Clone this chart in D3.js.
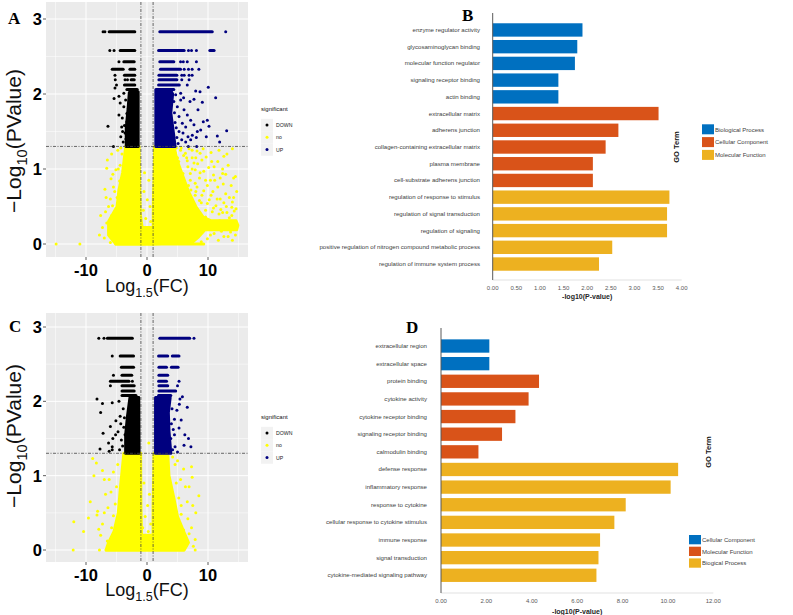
<!DOCTYPE html>
<html>
<head>
<meta charset="utf-8">
<script src="https://cdn.jsdelivr.net/npm/d3@7"></script>
<style>
  html, body { margin: 0; padding: 0; background: #fff; }
  svg { display: block; font-family: "Liberation Sans", Arial, sans-serif; }
</style>
</head>
<body>
<svg id="fig" width="793" height="615"></svg>
<script>
// ---------------------------------------------------------------
// Volcano data.
// runs = a row of overlapping dots at one p-value: [y, x1, x2]
// pts  = single dots [x, y]
// blob = outline of a region packed solid with dots [[x, y], ...]
// ---------------------------------------------------------------
const volXTicks = [-10, 0, 10];
const volXMinor = [-15, -5, 5, 15];
const volYTicks = [0, 1, 2, 3];
const volYMinor = [0.5, 1.5, 2.5];
const volThreshX = [-1, 1];
const volThreshY = 1.301;
const sigLevels = ['DOWN', 'no', 'UP'];

// Panel A
const aDownRuns = [[2.83, -6.2, -2.0], [2.58, -4.4, -2.0], [2.43, -3.8, -2.1], [2.33, -5.7, -3.9], [2.33, -2.8, -2.0],
  [2.25, -3.7, -2.0], [2.19, -2.6, -2.1], [2.12, -3.7, -2.0], [2.06, -3.3, -1.6]];
const aDownPts = [[-7.2, 2.83], [-6.9, 2.83], [-6.1, 2.58], [-5.4, 2.58], [-4.6, 2.43], [-5.25, 2.25], [-5.2, 2.19],
  [-3.6, 2.19], [-3.2, 2.19], [-5.0, 2.12], [-5.25, 2.08], [-5.4, 1.94], [-4.6, 1.97], [-6.4, 1.57], [-4.15, 1.56],
  [-4.6, 1.72], [-5.5, 1.30], [-3.8, 1.83], [-4.05, 1.68], [-3.6, 1.48], [-4.3, 1.43], [-3.9, 1.36], [-3.5, 1.92],
  [-3.3, 1.74], [-3.8, 2.01], [-3.3, 1.63], [-4.0, 1.50], [-3.7, 1.58], [-3.45, 1.40], [-4.4, 1.88]];
const aDownBlob = [[-3.1, 1.3], [-1.45, 1.3], [-1.45, 2.03], [-2.2, 2.06], [-2.9, 2.02], [-3.1, 1.8], [-3.4, 1.55], [-3.4, 1.3]];

const aUpRuns = [[2.83, 2.1, 10.7], [2.58, 1.9, 6.1], [2.58, 10.3, 11.0], [2.43, 2.1, 4.4], [2.33, 2.2, 5.5],
  [2.25, 1.95, 4.9], [2.19, 1.95, 4.9], [2.12, 1.9, 5.3], [2.06, 1.7, 4.4]];
const aUpPts = [[12.9, 2.83], [6.8, 2.58], [7.3, 2.58], [8.1, 2.58], [5.5, 2.43], [5.95, 2.43], [6.6, 2.43], [8.1, 2.43],
  [6.1, 2.33], [6.8, 2.33], [7.4, 2.33], [8.5, 2.33], [5.7, 2.25], [6.1, 2.25], [6.9, 2.25], [7.4, 2.25], [5.7, 2.19],
  [6.9, 2.19], [6.6, 2.12], [7.98, 2.04], [8.69, 2.03], [10.05, 2.09], [11.26, 1.95], [9.07, 1.89], [7.7, 1.93],
  [7.05, 1.90], [8.36, 1.79], [6.61, 1.72], [13.06, 1.51], [11.53, 1.44], [11.91, 1.36], [9.89, 1.65], [9.23, 1.63],
  [10.16, 1.57], [8.8, 1.52], [8.25, 1.50], [7.43, 1.45], [6.72, 1.43], [8.08, 1.42], [9.72, 1.43], [5.25, 1.50],
  [5.69, 1.39], [6.34, 1.36], [7.16, 1.39], [8.15, 1.30], [6.77, 1.30], [5.52, 1.92], [6.07, 1.79], [5.25, 1.70],
  [5.79, 1.61], [6.34, 1.56], [7.16, 1.65], [7.7, 1.59], [4.97, 1.83], [4.7, 1.99], [5.52, 2.01], [4.6, 1.62],
  [4.9, 1.42], [5.1, 1.34], [4.5, 1.75], [4.8, 1.55], [4.4, 1.90], [5.9, 1.48], [6.0, 1.95]];
const aUpBlob = [[1.45, 1.3], [4.6, 1.3], [4.3, 1.5], [3.9, 1.75], [4.2, 2.0], [3.8, 2.06], [1.45, 2.06]];

const aNoRuns = [[0, -5.1, 9.3]];
const aNoPts = [[-14.9, 0], [-11.0, 0],
  [-6.5, 1.12], [-6.6, 1.01], [-5.1, 0.99], [-6.9, 0.73], [-5.5, 0.76], [-6.8, 0.43], [-7.3, 0.22], [-5.9, 0.3],
  [-5.65, 0.51], [-4.5, 0.84], [-4.9, 0.62], [-6.2, 0.18], [-5.3, 0.11], [-5.8, 0.38], [-4.1, 1.2], [-4.4, 1.05],
  [-5.3, 0.7], [-6.0, 0.6], [-4.3, 1.28], [-5.6, 0.93], [-6.6, 0.28], [-7.0, 0.08],
  [-4.8, 1.25], [-5.8, 1.2], [-4.7, 1.0], [-5.9, 0.87], [-6.3, 0.5], [-7.6, 0.38], [-6.7, 0.62], [-5.0, 0.35],
  [-7.8, 0.12], [-6.0, 0.02],
  [-0.5, 0.70], [0.05, 0.59], [-0.6, 0.45], [0.5, 0.5], [-0.2, 0.34], [0.3, 0.85], [-0.4, 0.95], [0.6, 0.3],
  [7.4, 1.25], [8.7, 1.21], [9.7, 1.16], [14.0, 1.27], [12.6, 1.17], [12.4, 1.0], [12.4, 0.94], [14.5, 0.9],
  [11.0, 1.03], [9.3, 0.97], [8.3, 1.07], [6.6, 1.11], [6.0, 1.18], [10.4, 0.85], [11.6, 0.76], [12.9, 0.67],
  [14.0, 0.56], [14.3, 0.44], [13.5, 0.35], [12.4, 0.42], [11.3, 0.51], [10.2, 0.59], [9.3, 0.71], [7.9, 0.81],
  [8.6, 0.88], [7.1, 0.94], [11.9, 0.31], [12.6, 0.10], [11.0, 0.14], [9.9, 0.07], [13.7, 0.16], [10.2, 0.25],
  [14.2, 0.88], [13.9, 0.49], [13.3, 0.10], [5.5, 1.25], [6.3, 1.21], [7.4, 1.15], [5.2, 1.10], [6.7, 1.03],
  [7.9, 0.99], [5.9, 0.94], [7.1, 0.85], [8.2, 0.76], [9.0, 0.65], [9.9, 0.54], [10.7, 0.43], [7.9, 0.65],
  [4.6, 1.22], [5.0, 1.15], [4.8, 1.28], [6.8, 0.78], [8.6, 0.58], [9.6, 0.45], [11.8, 0.40], [12.9, 0.22],
  [11.5, 0.22], [13.0, 0.5], [14.7, 0.7], [12.0, 0.6], [10.8, 0.7], [9.6, 0.85], [8.0, 1.15], [10.6, 1.1], [12.0, 0.88],
  [5.6, 1.28], [6.9, 1.27], [8.2, 1.24], [9.2, 1.27], [10.5, 1.22], [11.8, 1.25], [13.1, 1.2], [6.5, 1.15],
  [7.7, 1.08], [9.0, 1.12], [10.1, 1.02], [11.6, 1.1], [13.3, 1.05], [7.4, 1.0], [8.7, 0.95], [10.9, 0.92],
  [12.9, 0.93], [13.8, 0.78], [7.2, 0.72], [8.0, 0.7], [9.9, 0.78], [11.1, 0.85], [12.5, 0.8], [13.5, 0.62],
  [8.9, 0.55], [10.5, 0.65], [11.5, 0.6], [12.6, 0.55], [14.2, 0.62], [9.6, 0.36], [10.9, 0.48], [12.1, 0.46],
  [13.1, 0.42], [14.6, 0.47], [13.9, 0.38], [8.9, 0.03], [10.4, 0.12], [11.7, 0.05], [12.2, 0.17], [14.5, 0.12],
  [14.0, 0.05]];
const aNoBlobs = [
  [[-3.5, 1.3], [-1.3, 1.3], [-1.2, 0.8], [-1.1, 0.4], [-0.8, 0.22], [0.8, 0.22], [1.0, 0.05], [1.0, 0], [-5.1, 0],
   [-6.3, 0.12], [-6.3, 0.3], [-4.9, 0.5], [-4.6, 0.72], [-4.0, 0.95], [-3.7, 1.15]],
  [[1.25, 1.3], [4.4, 1.3], [5.0, 1.1], [5.9, 0.9], [6.8, 0.7], [8.0, 0.5], [9.2, 0.36], [10.5, 0.31], [14.6, 0.31],
   [14.9, 0.25], [14.7, 0.19], [9.5, 0.19], [8.5, 0.1], [7.5, 0.03], [1.0, 0], [1.05, 0.6], [1.2, 1.0]]
];

// Panel C
const cDownRuns = [[2.85, -6.5, -2.4], [2.61, -4.4, -2.2], [2.46, -4.2, -2.2], [2.35, -4.1, -2.5], [2.27, -6.0, -2.95],
  [2.21, -4.1, -2.1], [2.14, -4.1, -2.1], [2.08, -4.1, -1.8]];
const cDownPts = [[-7.9, 2.85], [-7.05, 2.85], [-5.7, 2.61], [-5.5, 2.35], [-2.4, 2.27], [-6.0, 2.21],
  [-8.2, 2.03], [-7.3, 1.97], [-7.6, 1.85], [-5.7, 1.98], [-5.1, 1.74], [-7.2, 1.57], [-6.0, 1.66], [-5.6, 1.5],
  [-6.3, 1.44], [-5.7, 1.39], [-7.7, 1.36], [-4.75, 1.59], [-5.15, 1.55], [-4.3, 1.70], [-6.2, 1.33], [-5.7, 1.35],
  [-4.4, 1.80], [-3.9, 1.9], [-4.2, 1.48], [-3.8, 1.65], [-4.5, 1.35], [-4.0, 1.40], [-3.7, 1.78], [-4.6, 2.0], [-3.6, 1.55]];
const cDownBlob = [[-3.5, 1.3], [-1.3, 1.3], [-1.35, 2.05], [-2.8, 2.05], [-3.2, 1.8], [-3.5, 1.55]];

const cUpRuns = [[2.85, 2.1, 7.0], [2.61, 1.9, 3.4], [2.61, 4.15, 5.25], [2.46, 1.95, 3.2], [2.46, 4.0, 5.1],
  [2.35, 1.95, 3.4], [2.27, 1.9, 3.2], [2.21, 1.95, 3.4], [2.14, 1.95, 4.7], [2.08, 1.9, 3.9]];
const cUpPts = [[7.7, 2.85], [5.25, 2.27], [5.0, 2.21], [6.6, 1.92], [5.3, 1.96], [5.8, 2.06], [4.9, 1.88], [4.5, 1.76],
  [4.0, 1.7], [5.25, 1.64], [4.5, 1.55], [6.2, 1.55], [6.8, 1.50], [6.07, 1.41], [7.2, 1.39], [4.6, 1.39], [5.4, 2.03],
  [4.2, 1.35], [5.0, 1.32], [4.1, 1.9], [3.9, 1.5], [4.3, 1.62], [5.6, 1.75]];
const cUpBlob = [[1.4, 1.3], [3.9, 1.3], [3.6, 1.6], [3.5, 1.85], [3.8, 2.05], [1.4, 2.05]];

const cNoRuns = [[0, -6.7, 6.0]];
const cNoPts = [[-12.1, 0], [-7.8, 0], [7.9, 0], [0.3, 1.44],
  [-8.9, 1.23], [-8.3, 1.17], [-7.3, 1.07], [-8.7, 1.0], [-7.0, 0.95], [-5.5, 1.05], [-5.9, 0.78], [-9.3, 0.65],
  [-9.6, 0.43], [-12.0, 0.38], [-10.4, 0.25], [-8.2, 0.47], [-8.1, 0.52], [-7.3, 0.35], [-5.8, 0.30], [-6.4, 0.57],
  [-5.5, 0.46], [-7.6, 0.2], [-6.8, 0.75], [-7.9, 0.28], [-6.5, 0.12], [-5.0, 0.85], [-4.8, 1.15], [-6.2, 0.95],
  [-5.2, 0.62], [-7.0, 0.5],
  [8.5, 0.73], [7.3, 1.12], [7.4, 0.98], [6.0, 1.09], [6.3, 0.85], [5.6, 0.48], [6.7, 0.42], [7.3, 0.3], [7.9, 0.14],
  [6.9, 0.22], [6.0, 0.27], [5.0, 1.2], [5.5, 0.95], [4.6, 1.15], [8.0, 0.5], [7.5, 0.6], [6.6, 0.65], [5.2, 0.7],
  [4.8, 0.9], [7.6, 0.05], [4.2, 1.25], [5.6, 0.6], [6.9, 0.85],
  [-0.5, 0.9], [0.4, 0.75], [0.1, 0.6], [-0.3, 0.45], [0.6, 0.35], [-0.7, 0.3], [0.2, 0.25]];
const cNoBlobs = [
  [[-3.8, 1.3], [-1.05, 1.3], [-1.0, 0.6], [-0.9, 0.2], [0.9, 0.2], [1.0, 0], [-6.7, 0], [-6.3, 0.1], [-5.4, 0.25],
   [-4.7, 0.5], [-4.4, 0.8], [-4.1, 1.05]],
  [[1.15, 1.3], [3.4, 1.3], [3.6, 1.0], [4.4, 0.7], [5.0, 0.45], [6.0, 0.25], [6.8, 0.1], [6.1, 0], [1.0, 0],
   [1.0, 0.6], [1.1, 1.0]]
];

// ---------------------------------------------------------------
// GO enrichment bars
// ---------------------------------------------------------------
const bTerms = ['enzyme regulator activity', 'glycosaminoglycan binding', 'molecular function regulator',
  'signaling receptor binding', 'actin binding', 'extracellular matrix', 'adherens junction',
  'collagen-containing extracellular matrix', 'plasma membrane', 'cell-substrate adherens junction',
  'regulation of response to stimulus', 'regulation of signal transduction', 'regulation of signaling',
  'positive regulation of nitrogen compound metabolic process', 'regulation of immune system process'];
const bValues = [1.90, 1.79, 1.74, 1.39, 1.39, 3.51, 2.66, 2.39, 2.12, 2.12, 3.74, 3.69, 3.69, 2.53, 2.25];
const bGroups = [0, 0, 0, 0, 0, 1, 1, 1, 1, 1, 2, 2, 2, 2, 2];
const bLegend = ['Biological Process', 'Cellular Component', 'Molecular Function'];
const bTicks = [0, 0.5, 1, 1.5, 2, 2.5, 3, 3.5, 4];

const dTerms = ['extracellular region', 'extracellular space', 'protein binding', 'cytokine activity',
  'cytokine receptor binding', 'signaling receptor binding', 'calmodulin binding', 'defense response',
  'inflammatory response', 'response to cytokine', 'cellular response to cytokine stimulus', 'immune response',
  'signal transduction', 'cytokine-mediated signaling pathway'];
const dValues = [2.13, 2.13, 4.32, 3.86, 3.28, 2.69, 1.65, 10.45, 10.12, 8.14, 7.64, 7.01, 6.94, 6.85];
const dGroups = [0, 0, 1, 1, 1, 1, 1, 2, 2, 2, 2, 2, 2, 2];
const dLegend = ['Cellular Component', 'Molecular Function', 'Biogical Process'];
const dTicks = [0, 2, 4, 6, 8, 10, 12];

const goColors = ['#0070C0', '#D95319', '#EDB120'];
const sigColors = { DOWN: '#000000', no: '#FFFF00', UP: '#00007F' };

const svg = d3.select('#fig');
svg.append('rect').attr('width', 793).attr('height', 615).attr('fill', '#fff');

/**
 * Text with a lowered part, e.g. Log10: parts = [[text, isSub], ...]
 */
function subText(sel, parts, size) {
  let down = false;
  parts.forEach(([t, sub]) => {
    const ts = sel.append('tspan').text(t);
    if (sub && !down) { ts.attr('dy', size * 0.3).attr('font-size', size * 0.7); down = true; }
    else if (!sub && down) { ts.attr('dy', -size * 0.3); down = false; }
  });
  return sel;
}

/**
 * Draws one ggplot-like volcano panel.
 */
function volcano(o) {
  const g = svg.append('g');
  const x = d3.scaleLinear().domain([-10, 10]).range([86, 208]);
  const y = d3.scaleLinear().domain([0, 3]).range([o.y0, o.y3]);

  // Panel and grid
  g.append('rect').attr('x', o.left).attr('y', o.top)
    .attr('width', o.right - o.left).attr('height', o.bottom - o.top).attr('fill', '#EBEBEB');
  g.selectAll('.vmin').data(volXMinor).join('line')
    .attr('x1', d => x(d)).attr('x2', d => x(d)).attr('y1', o.top).attr('y2', o.bottom)
    .attr('stroke', '#fff').attr('stroke-width', 0.5);
  g.selectAll('.hmin').data(volYMinor).join('line')
    .attr('y1', d => y(d)).attr('y2', d => y(d)).attr('x1', o.left).attr('x2', o.right)
    .attr('stroke', '#fff').attr('stroke-width', 0.5);
  g.selectAll('.vmaj').data(volXTicks).join('line')
    .attr('x1', d => x(d)).attr('x2', d => x(d)).attr('y1', o.top).attr('y2', o.bottom)
    .attr('stroke', '#fff').attr('stroke-width', 1);
  g.selectAll('.hmaj').data(volYTicks).join('line')
    .attr('y1', d => y(d)).attr('y2', d => y(d)).attr('x1', o.left).attr('x2', o.right)
    .attr('stroke', '#fff').attr('stroke-width', 1);

  // Marks: yellow first, then down and up
  const line = d3.line().x(d => x(d[0])).y(d => y(d[1])).curve(d3.curveLinearClosed);
  const layers = [['no', o.no], ['DOWN', o.down], ['UP', o.up]];
  layers.forEach(([k, s]) => {
    const c = sigColors[k];
    const lg = g.append('g');
    lg.selectAll('path').data(s.blobs).join('path')
      .attr('d', line).attr('fill', c).attr('stroke', c).attr('stroke-width', 3).attr('stroke-linejoin', 'round');
    lg.selectAll('line').data(s.runs).join('line')
      .attr('x1', d => x(d[1])).attr('x2', d => x(d[2])).attr('y1', d => y(d[0])).attr('y2', d => y(d[0]))
      .attr('stroke', c).attr('stroke-width', 3).attr('stroke-linecap', 'round');
    lg.selectAll('circle').data(s.pts).join('circle')
      .attr('cx', d => x(d[0])).attr('cy', d => y(d[1])).attr('r', 1.5).attr('fill', c);
  });

  // Threshold lines
  g.selectAll('.tx').data(volThreshX).join('line')
    .attr('x1', d => x(d)).attr('x2', d => x(d)).attr('y1', o.top).attr('y2', o.bottom)
    .attr('stroke', '#444').attr('stroke-width', 0.8).attr('stroke-dasharray', '3,1.5,1,1.5');
  g.append('line').attr('x1', o.left).attr('x2', o.right).attr('y1', y(volThreshY)).attr('y2', y(volThreshY))
    .attr('stroke', '#444').attr('stroke-width', 0.8).attr('stroke-dasharray', '3,1.5,1,1.5');

  // Ticks and labels
  g.selectAll('.yt').data(volYTicks).join('line')
    .attr('x1', o.left - 3).attr('x2', o.left).attr('y1', d => y(d)).attr('y2', d => y(d))
    .attr('stroke', '#333').attr('stroke-width', 0.8);
  g.selectAll('.xt').data(volXTicks).join('line')
    .attr('y1', o.bottom).attr('y2', o.bottom + 3).attr('x1', d => x(d)).attr('x2', d => x(d))
    .attr('stroke', '#333').attr('stroke-width', 0.8);
  g.selectAll('.yl').data(volYTicks).join('text')
    .attr('x', o.left - 4).attr('y', d => y(d) + 6).attr('text-anchor', 'end')
    .attr('font-size', 16.5).attr('font-weight', 'bold').attr('fill', '#000').text(d => d);
  g.selectAll('.xl').data(volXTicks).join('text')
    .attr('x', d => x(d)).attr('y', o.bottom + 19).attr('text-anchor', 'middle')
    .attr('font-size', 16.5).attr('font-weight', 'bold').attr('fill', '#000').text(d => d);

  // Axis titles
  subText(g.append('text').attr('transform', `translate(${o.ytx},${o.yty}) rotate(-90)`)
    .attr('text-anchor', 'middle').attr('font-size', 21).attr('fill', '#111'),
    [['\u2212Log', false], ['10', true], ['(PValue)', false]], 21);
  subText(g.append('text').attr('x', 147).attr('y', o.xty)
    .attr('text-anchor', 'middle').attr('font-size', 18).attr('fill', '#111'),
    [['Log', false], ['1.5', true], ['(FC)', false]], 18);

  // Legend
  g.append('text').attr('x', 261).attr('y', o.legY).attr('font-size', 6).attr('fill', '#111').text('significant');
  sigLevels.forEach((k, i) => {
    const cy = o.legY + 14 + i * 12.3;
    g.append('rect').attr('x', 261).attr('y', cy - 6.15).attr('width', 12).attr('height', 12.3).attr('fill', '#F2F2F2');
    g.append('circle').attr('cx', 267).attr('cy', cy).attr('r', 1.5).attr('fill', sigColors[k]);
    g.append('text').attr('x', 276).attr('y', cy + 2).attr('font-size', 5.2).attr('fill', '#222').text(k);
  });

  // Panel letter
  g.append('text').attr('x', o.lx).attr('y', o.ly).attr('font-family', '"Liberation Serif", serif')
    .attr('font-weight', 'bold').attr('font-size', 17).text(o.letter);
}

/**
 * Draws one horizontal GO bar panel.
 */
function goBars(o) {
  const g = svg.append('g');
  const x = d3.scaleLinear().domain([0, o.ticks[o.ticks.length - 1]]).range([o.x0, o.x1]);
  const y = d3.scaleBand().domain(o.terms).range([o.yTop, o.yBot]).paddingInner(o.pad).paddingOuter(o.pad / 2);

  g.append('line').attr('x1', x(0)).attr('x2', x.range()[1]).attr('y1', o.axBot).attr('y2', o.axBot)
    .attr('stroke', '#d9d9d9').attr('stroke-width', 0.8);

  g.selectAll('rect').data(o.terms).join('rect')
    .attr('x', x(0)).attr('y', d => y(d)).attr('height', y.bandwidth())
    .attr('width', (d, i) => x(o.values[i]) - x(0)).attr('fill', (d, i) => goColors[o.groups[i]]);

  g.append('line').attr('x1', x(0)).attr('x2', x(0)).attr('y1', o.axTop).attr('y2', o.axBot)
    .attr('stroke', '#595959').attr('stroke-width', 1);

  g.selectAll('.lab').data(o.terms).join('text')
    .attr('x', o.labX).attr('y', d => y(d) + y.bandwidth() / 2 + 2).attr('text-anchor', 'end')
    .attr('font-size', 6.1).attr('fill', '#404040').text(d => d);

  g.selectAll('.tk').data(o.ticks).join('text')
    .attr('x', d => x(d)).attr('y', o.axBot + 9.5).attr('text-anchor', 'middle')
    .attr('font-size', 6).attr('fill', '#595959').text(d3.format('.2f'));

  g.append('text').attr('x', (x.range()[0] + x.range()[1]) / 2).attr('y', o.titleY).attr('text-anchor', 'middle')
    .attr('font-size', 7).attr('font-weight', 'bold').attr('fill', '#262626').text('-log10(P-value)');

  g.append('text').attr('transform', `translate(${o.goX},${o.goY}) rotate(-90)`).attr('text-anchor', 'middle')
    .attr('font-size', 7.5).attr('font-weight', 'bold').attr('fill', '#111').text('GO Term');

  o.legend.forEach((t, i) => {
    const ty = o.legY + i * o.legStep;
    g.append('rect').attr('x', o.legX).attr('y', ty).attr('width', 12).attr('height', o.legH).attr('fill', goColors[i]);
    g.append('text').attr('x', o.legX + 13).attr('y', ty + o.legH / 2 + 2.2).attr('font-size', 6)
      .attr('fill', '#404040').text(t);
  });

  g.append('text').attr('x', o.lx).attr('y', o.ly).attr('font-family', '"Liberation Serif", serif')
    .attr('font-weight', 'bold').attr('font-size', 17).text(o.letter);
}

volcano({
  letter: 'A', lx: 8, ly: 24,
  left: 46, right: 248, top: 2, bottom: 257, y0: 244, y3: 19,
  ytx: 21, yty: 141, xty: 292, legY: 111,
  down: { runs: aDownRuns, pts: aDownPts, blobs: [aDownBlob] },
  up: { runs: aUpRuns, pts: aUpPts, blobs: [aUpBlob] },
  no: { runs: aNoRuns, pts: aNoPts, blobs: aNoBlobs }
});

volcano({
  letter: 'C', lx: 9, ly: 332,
  left: 46, right: 248, top: 313, bottom: 562, y0: 550, y3: 327,
  ytx: 21, yty: 436, xty: 596, legY: 419,
  down: { runs: cDownRuns, pts: cDownPts, blobs: [cDownBlob] },
  up: { runs: cUpRuns, pts: cUpPts, blobs: [cUpBlob] },
  no: { runs: cNoRuns, pts: cNoPts, blobs: cNoBlobs }
});

goBars({
  letter: 'B', lx: 462, ly: 21,
  terms: bTerms, values: bValues, groups: bGroups, legend: bLegend, ticks: bTicks,
  x0: 492.7, x1: 681.7, yTop: 21.6, yBot: 272.4, pad: 0.2,
  axTop: 13, axBot: 280, labX: 480, titleY: 299,
  goX: 679, goY: 147, legX: 702, legY: 124.3, legStep: 12.8, legH: 10
});

goBars({
  letter: 'D', lx: 406, ly: 333,
  terms: dTerms, values: dValues, groups: dGroups, legend: dLegend, ticks: dTicks,
  x0: 441, x1: 713.3, yTop: 337.2, yBot: 584.1, pad: 0.245,
  axTop: 328, axBot: 593, labX: 427, titleY: 613.5,
  goX: 711, goY: 452, legX: 689, legY: 535, legStep: 11.7, legH: 9.3
});
</script>
</body>
</html>
